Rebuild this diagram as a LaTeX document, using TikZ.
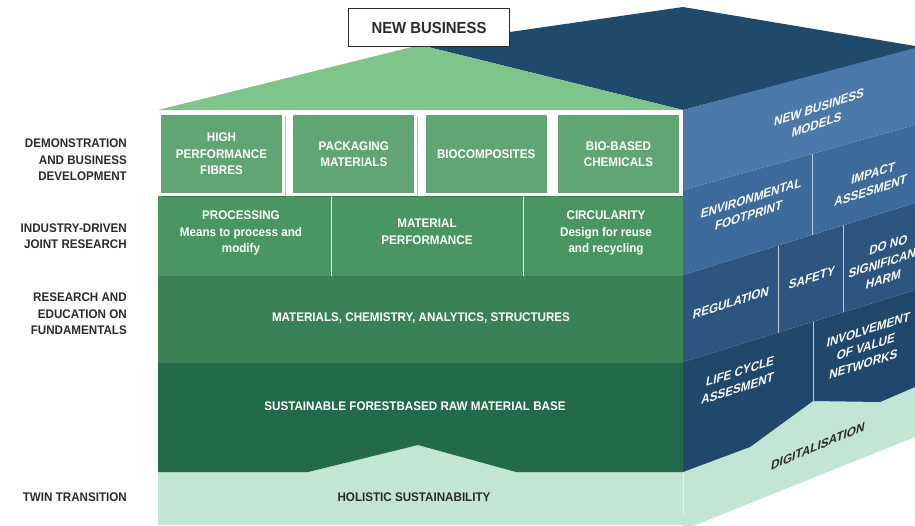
\documentclass[tikz,border=0pt]{standalone}
\usepackage{fontspec}
\setmainfont{Liberation Sans}[FakeStretch=0.93]
\usetikzlibrary{positioning, shadows}
\definecolor{roofgreen}{HTML}{7EC48B}
\definecolor{cardgreen}{HTML}{62A574}
\definecolor{jointgreen}{HTML}{4A9662}
\definecolor{fundgreen}{HTML}{3A8156}
\definecolor{basegreen}{HTML}{236A4B}
\definecolor{mint}{HTML}{C2E5D4}
\definecolor{topnavy}{HTML}{1F4A6B}
\definecolor{sideA}{HTML}{4A79AA}
\definecolor{sideB}{HTML}{3D6C9C}
\definecolor{sideC}{HTML}{2C5680}
\definecolor{sideD}{HTML}{1F486C}
\definecolor{inkgray}{HTML}{2B2B2B}
\newcommand\layerfont{\bfseries\fontsize{12.5}{16.5}\selectfont}
\tikzset{
	plan/.style={x=1pt,y=-1pt},
	rowlabel/.style={anchor=east, align=right, inner sep=0pt, text=inkgray, font=\layerfont},
	block/.style={
		rectangle, draw=white, line width=3pt,
		fill=cardgreen,
		minimum width=124pt, minimum height=81pt, inner sep=0pt,
		align=center, text=white, font=\layerfont,
		drop shadow={shadow xshift=2pt, shadow yshift=-2pt, opacity=0.25, fill=black}
	},
	layer text/.style={align=center, text=white, font=\layerfont},
	side text/.style={align=center, text=white, font=\layerfont, yslant=0.32, xslant=0.15},
	divider/.style={white, line width=0.8pt},
	side divider/.style={white!65!sideB, line width=0.7pt},
	seam/.style={white!55!mint, line width=1pt}
}
\begin{document}
\begin{tikzpicture}[plan]
	\useasboundingbox (0,0) rectangle (915,525);
	\clip (0,0) rectangle (915,525);
	\coordinate (roofL) at (158,110);
	\coordinate (apex)  at (420,45);
	\coordinate (roofR) at (683,110);
	\coordinate (back)  at (683,7);
	\coordinate (farT)  at (915,46);
	% roof and top of the cube
	\fill[topnavy]   (apex)--(back)--(farT)--(915,49)--(roofR)--cycle;
	\fill[roofgreen] (roofL)--(apex)--(roofR)--cycle;
	% front face
	\fill[white]      (158,111) rectangle (683,196);
	\fill[jointgreen] (158,196) rectangle (683,276);
	\fill[fundgreen]  (158,276) rectangle (683,363);
	\fill[mint]       (158,363) rectangle (683,525);
	\fill[basegreen]  (158,363)--(683,363)--(683,472)--(516,472)--(418,445)--(308,472)--(158,472)--cycle;
	\draw[divider] (331,196)--(331,276) (523,196)--(523,276);
	% side face
	\fill[mint]  (683,430)--(915,360)--(915,437)--(683,530)--cycle;
	\fill[sideD] (683,362)--(915,290)--(915,387)--(880,402)--(813,401)--(750,447)--(683,472)--cycle;
	\fill[sideC] (683,275)--(915,203)--(915,290)--(683,362)--cycle;
	\fill[sideB] (683,190)--(915,125)--(915,203)--(683,275)--cycle;
	\fill[sideA] (roofR)--(915,48)--(915,125)--(683,190)--cycle;
	\draw[side divider] (812,154)--(812,235) (778,246)--(778,333) (843,225)--(843,312) (813,322)--(813,401);
	\draw[seam] (683,472)--(683,515);
	\node[draw=inkgray, fill=white, line width=0.8pt, minimum width=161pt, minimum height=38pt,
		text=inkgray, font=\bfseries\fontsize{16}{18}\selectfont] (newbiz) at (429,27.5) {NEW BUSINESS};
	\node[rowlabel] (demo) at (127,160) {DEMONSTRATION\\AND BUSINESS\\DEVELOPMENT};
	\node[rowlabel] (industry) at (127,236) {INDUSTRY-DRIVEN\\JOINT RESEARCH};
	\node[rowlabel] (fund) at (127,314) {RESEARCH AND\\EDUCATION ON\\FUNDAMENTALS};
	\node[rowlabel] (twin) at (127,497) {TWIN TRANSITION};
	\node[block] (fibres) at (221.5,154) {HIGH\\PERFORMANCE\\FIBRES};
	\node[block, right=5.33pt of fibres] (packaging) {PACKAGING\\MATERIALS};
	\node[block, right=5.33pt of packaging] (biocomp) {BIOCOMPOSITES};
	\node[block, right=5.33pt of biocomp] (chemicals) {BIO-BASED\\CHEMICALS};
	\node[layer text] (processing) at (241,233) {PROCESSING\\Means to process and\\modify};
	\node[layer text] (performance) at (427,232) {MATERIAL\\PERFORMANCE};
	\node[layer text] (circularity) at (606,233) {CIRCULARITY\\Design for reuse\\and recycling};
	\node[layer text] (materials) at (421,318) {MATERIALS, CHEMISTRY, ANALYTICS, STRUCTURES};
	\node[layer text] (forest) at (415,406) {SUSTAINABLE FORESTBASED RAW MATERIAL BASE};
	\node[layer text, text=inkgray] (holistic) at (414,497) {HOLISTIC SUSTAINABILITY};
	\node[side text] (models) at (818,116) {NEW BUSINESS\\MODELS};
	\node[side text] (footprint) at (750,207) {ENVIRONMENTAL\\FOOTPRINT};
	\node[side text] (impact) at (872,182) {IMPACT\\ASSESMENT};
	\node[side text] (regulation) at (731,303) {REGULATION};
	\node[side text] (safety) at (812,278) {SAFETY};
	\node[side text] (harm) at (886,262) {DO NO\\SIGNIFICANT\\HARM};
	\node[side text] (involve) at (866,347) {INVOLVEMENT\\OF VALUE\\NETWORKS};
	\node[side text] (lifecycle) at (739,380) {LIFE CYCLE\\ASSESMENT};
	\node[side text, text=inkgray, yslant=0.1] (digital) at (818,446) {DIGITALISATION};
\end{tikzpicture}
\end{document}
